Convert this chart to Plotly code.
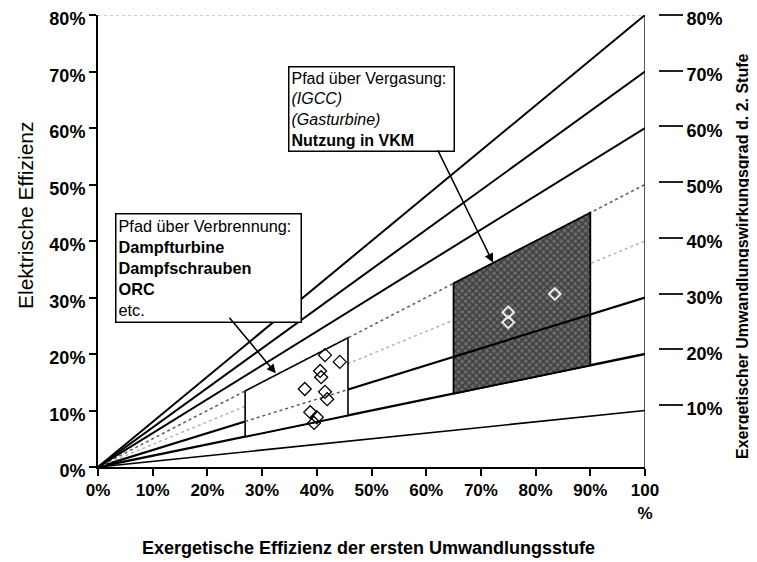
import plotly.graph_objects as go

# ---- data ----
slopes = [10, 20, 30, 40, 50, 60, 70, 80]          # Umwandlungswirkungsgrad 2. Stufe (%)
x_ticks = [0, 10, 20, 30, 40, 50, 60, 70, 80, 90, 100]
x_tick_labels = ["0%", "10%", "20%", "30%", "40%", "50%", "60%", "70%", "80%", "90%", "100<br>%"]
y_ticks = [0, 10, 20, 30, 40, 50, 60, 70, 80]
y_tick_labels = ["0%", "10%", "20%", "30%", "40%", "50%", "60%", "70%", "80%"]
y2_ticks = [10, 20, 30, 40, 50, 60, 70, 80]
y2_tick_labels = ["10%", "20%", "30%", "40%", "50%", "60%", "70%", "80%"]

# regions (x range in %, bounded by 2nd-stage efficiency lines)
burn_x = [26.9, 45.7]
gas_x = [65.0, 90.0]
region_slopes = [20, 50]

burn_pts_x = [41.5, 44.2, 40.6, 40.8, 37.8, 41.5, 41.9, 38.8, 40.0, 39.5]
burn_pts_y = [19.8, 18.6, 17.0, 15.9, 13.8, 13.3, 12.0, 9.7, 8.8, 7.8]
gas_pts_x = [83.5, 75.0, 75.0]
gas_pts_y = [30.6, 27.4, 25.6]

FONT = "Liberation Sans, Arial, sans-serif"

line_style = {
    10: dict(color="black", width=1.6),
    20: dict(color="black", width=2.4),
    30: dict(color="black", width=2.2),
    40: dict(color="#b0b0b0", width=1.4, dash="dot"),
    50: dict(color="#666666", width=1.6, dash="dot"),
    60: dict(color="black", width=2.0),
    70: dict(color="black", width=2.0),
    80: dict(color="black", width=2.0),
}

fig = go.Figure()

for k in slopes:
    fig.add_trace(go.Scatter(x=[0, 100], y=[0, k], mode="lines",
                             line=line_style[k], showlegend=False, hoverinfo="skip"))

def region(xr, sl):
    lo, hi = sl[0] / 100, sl[1] / 100
    xs = [xr[0], xr[1], xr[1], xr[0], xr[0]]
    ys = [xr[0] * lo, xr[1] * lo, xr[1] * hi, xr[0] * hi, xr[0] * lo]
    return xs, ys

# burning region (white box)
bx, by = region(burn_x, region_slopes)
fig.add_trace(go.Scatter(x=bx, y=by, mode="lines", fill="toself", fillcolor="white",
                         line=dict(color="black", width=1.6), showlegend=False, hoverinfo="skip"))
fig.add_trace(go.Scatter(x=burn_x, y=[v * 0.3 for v in burn_x], mode="lines",
                         line=dict(color="#555555", width=1.4, dash="dot"),
                         showlegend=False, hoverinfo="skip"))

# gasification region (dark textured box)
gx, gy = region(gas_x, region_slopes)
fig.add_trace(go.Scatter(x=gx, y=gy, mode="lines", fill="toself", fillcolor="#444444",
                         fillpattern=dict(shape="x", fgcolor="#111111", bgcolor="#6a6a6a",
                                          size=5, solidity=0.5),
                         line=dict(color="black", width=1.8), showlegend=False, hoverinfo="skip"))
fig.add_trace(go.Scatter(x=gas_x, y=[v * 0.3 for v in gas_x], mode="lines",
                         line=dict(color="black", width=2.2), showlegend=False, hoverinfo="skip"))

fig.add_trace(go.Scatter(x=burn_pts_x, y=burn_pts_y, mode="markers",
                         marker=dict(symbol="diamond-open", size=10, color="black",
                                     line=dict(width=1.3)),
                         showlegend=False))
fig.add_trace(go.Scatter(x=gas_pts_x, y=gas_pts_y, mode="markers",
                         marker=dict(symbol="diamond-open", size=9, color="#eeeeee",
                                     line=dict(width=2)),
                         showlegend=False))

# dummy trace for the right axis
fig.add_trace(go.Scatter(x=[None], y=[None], yaxis="y2", showlegend=False, hoverinfo="skip"))

# page has an 8px body margin: figure coords = page coords - 8
OFF = 8
FW, FH = 757 - OFF, 562 - OFF
L, R, T, B = 98 - OFF, FW - (658 - OFF), 15 - OFF, FH - (467 - OFF)
W_paper = FW - L - R
H_paper = FH - T - B
def px_to_paper(px, py):
    return (px - OFF - L) / W_paper, (FH - B - (py - OFF)) / H_paper

ytx, yty = px_to_paper(25, 215)
xtx, xty = px_to_paper(368, 548)
rtx, rty = px_to_paper(742, 256)

fig.update_layout(
    width=FW, height=FH,
    margin=dict(l=L, r=R, t=T, b=B, autoexpand=False),
    paper_bgcolor="white", plot_bgcolor="white",
    xaxis=dict(range=[0, 100], domain=[0, 547 / W_paper], tickvals=x_ticks, ticktext=x_tick_labels,
               showgrid=False, zeroline=False, showline=True, linecolor="black", linewidth=2,
               ticks="outside", ticklen=7, tickwidth=2, tickcolor="black", automargin=False,
               ticklabeloverflow="allow",
               tickfont=dict(family=FONT, size=17, color="black", weight="bold")),
    yaxis=dict(range=[0, 80], tickvals=y_ticks, ticktext=y_tick_labels,
               showgrid=False, zeroline=False, showline=True, linecolor="black", linewidth=2,
               ticks="outside", ticklen=7, tickwidth=2, tickcolor="black", automargin=False,
               ticklabeloverflow="allow", ticklabelshift=4,
               tickfont=dict(family=FONT, size=18, color="black", weight="bold")),
    yaxis2=dict(range=[-1.09, 80], overlaying="y", anchor="free", position=1.0, side="right",
                tickvals=y2_ticks, ticktext=y2_tick_labels, showgrid=False, zeroline=False,
                showline=False, ticks="outside", ticklen=24, tickwidth=2, tickcolor="#222222",
                automargin=False, ticklabeloverflow="allow", ticklabelshift=4,
                tickfont=dict(family=FONT, size=18, color="black", weight="bold")),
    shapes=[
        dict(type="line", xref="x", yref="y", x0=0, x1=100, y0=80, y1=80,
             line=dict(color="#999999", width=1.2, dash="dot")),
        dict(type="line", xref="x", yref="y", x0=100, x1=100, y0=0, y1=80,
             line=dict(color="black", width=1.3)),
    ],
    annotations=[
        dict(text="Pfad über Verbrennung:<br><b>Dampfturbine</b><br><b>Dampfschrauben</b><br><b>ORC</b><br>etc.",
             x=3.1, y=44.9, xref="x", yref="y", xanchor="left", yanchor="top", align="left",
             width=180, showarrow=False, bgcolor="white", bordercolor="black", borderwidth=1.5,
             borderpad=2, font=dict(family=FONT, size=16.3, color="#000000")),
        dict(text="Pfad über Vergasung:<br><i>(IGCC)</i><br><i>(Gasturbine)</i><br><b>Nutzung in VKM</b>",
             x=34.7, y=71.0, xref="x", yref="y", xanchor="left", yanchor="top", align="left",
             width=160, showarrow=False, bgcolor="white", bordercolor="black", borderwidth=1.5,
             borderpad=2, font=dict(family=FONT, size=16.0, color="#000000")),
        dict(x=32.5, y=16.6, ax=23.8, ay=26.7, xref="x", yref="y", axref="x", ayref="y",
             text="", showarrow=True, arrowhead=2, arrowsize=1.2, arrowwidth=1.5, arrowcolor="black"),
        dict(x=72.2, y=36.2, ax=62.0, ay=56.3, xref="x", yref="y", axref="x", ayref="y",
             text="", showarrow=True, arrowhead=2, arrowsize=1.2, arrowwidth=1.5, arrowcolor="black"),
        dict(text="Elektrische Effizienz", textangle=-90, x=ytx, y=yty, xref="paper", yref="paper",
             xanchor="center", yanchor="middle",
             showarrow=False, font=dict(family=FONT, size=21, color="#000000")),
        dict(text="<b>Exergetische Effizienz der ersten Umwandlungsstufe</b>",
             x=xtx, y=xty, xref="paper", yref="paper", xanchor="center", yanchor="middle",
             showarrow=False, font=dict(family=FONT, size=18, color="#000000")),
        dict(text="<b>Exergetischer Umwandlungswirkungsgrad d. 2. Stufe</b>", textangle=-90,
             x=rtx, y=rty, xref="paper", yref="paper", xanchor="center", yanchor="middle",
             showarrow=False, font=dict(family=FONT, size=16, color="#000000")),
    ],
)

fig.write_html("out.html")
